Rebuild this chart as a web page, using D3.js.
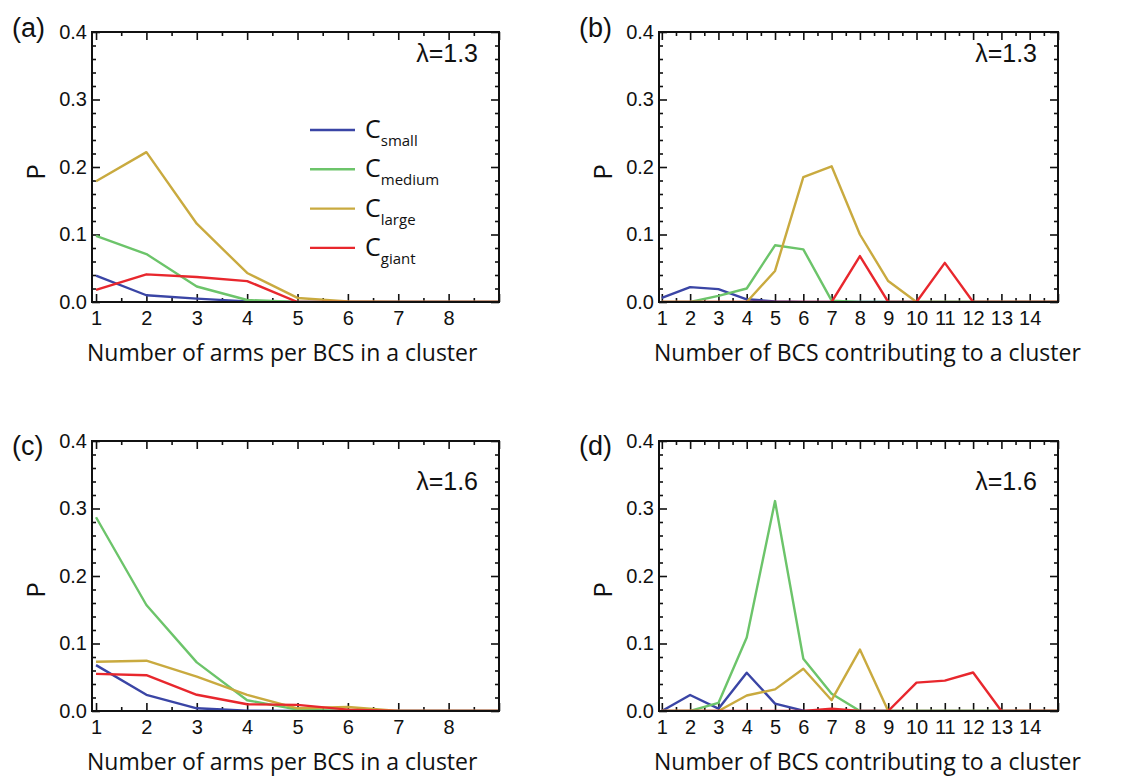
<!DOCTYPE html>
<html>
<head>
<meta charset="utf-8">
<script src="https://cdn.jsdelivr.net/npm/d3@7"></script>
<style>
  body { margin: 0; background: #fff; }
  svg { display: block; }
  .tick text { font-family: "Liberation Sans", Arial, sans-serif; font-size: 20px; fill: #111; }
  .tick line { stroke: #111; stroke-width: 1.6; }
  .lbl { font-family: "Open Sans", sans-serif; fill: #111; }
</style>
</head>
<body>
<div id="chart"></div>
<script>
// x categories
var armsX = [1, 2, 3, 4, 5, 6, 7, 8, 9];
var bcsX = [1, 2, 3, 4, 5, 6, 7, 8, 9, 10, 11, 12, 13, 14, 15];
var armsTickLabels = [1, 2, 3, 4, 5, 6, 7, 8];
var bcsTickLabels = [1, 2, 3, 4, 5, 6, 7, 8, 9, 10, 11, 12, 13, 14];
var yTicks = [0, 0.1, 0.2, 0.3, 0.4];

var seriesNames = ["small", "medium", "large", "giant"];
var seriesColors = ["#3a45a5", "#6cc46a", "#c9aa3f", "#e8272d"];

// (a) lambda=1.3, arms per BCS
var aSmall  = [0.039, 0.010, 0.005, 0.001, 0, 0, 0, 0, 0];
var aMedium = [0.098, 0.071, 0.023, 0.003, 0, 0, 0, 0, 0];
var aLarge  = [0.179, 0.222, 0.116, 0.043, 0.006, 0.001, 0, 0, 0];
var aGiant  = [0.018, 0.041, 0.037, 0.031, 0, 0, 0, 0, 0];

// (b) lambda=1.3, BCS per cluster
var bSmall  = [0.006, 0.022, 0.019, 0.004, 0.001, 0, 0, 0, 0, 0, 0, 0, 0, 0, 0];
var bMedium = [0, 0, 0.009, 0.020, 0.084, 0.078, 0.002, 0, 0, 0, 0, 0, 0, 0, 0];
var bLarge  = [0, 0, 0, 0, 0.046, 0.185, 0.201, 0.100, 0.031, 0, 0, 0, 0, 0, 0];
var bGiant  = [0, 0, 0, 0, 0, 0, 0, 0.068, 0, 0, 0.058, 0, 0, 0, 0];

// (c) lambda=1.6, arms per BCS
var cSmall  = [0.068, 0.024, 0.004, 0.0005, 0, 0, 0, 0, 0];
var cMedium = [0.287, 0.157, 0.072, 0.016, 0.002, 0, 0, 0, 0];
var cLarge  = [0.073, 0.0745, 0.051, 0.024, 0.004, 0.006, 0, 0, 0];
var cGiant  = [0.055, 0.053, 0.024, 0.010, 0.009, 0.002, 0, 0, 0];

// (d) lambda=1.6, BCS per cluster
var dSmall  = [0, 0.0237, 0.0035, 0.0567, 0.011, 0.0005, 0, 0, 0, 0, 0, 0, 0, 0, 0];
var dMedium = [0, 0, 0.012, 0.109, 0.311, 0.0775, 0.0257, 0, 0, 0, 0, 0, 0, 0, 0];
var dLarge  = [0, 0, 0, 0.023, 0.032, 0.0626, 0.016, 0.091, 0, 0, 0, 0, 0, 0, 0];
var dGiant  = [0, 0, 0, 0, 0, 0, 0.0035, 0, 0, 0.042, 0.045, 0.057, 0, 0, 0];

var armsTitle = "Number of arms per BCS in a cluster";
var bcsTitle = "Number of BCS contributing to a cluster";

var panels = [
  {tag: "(a)", lam: "\u03bb=1.3", xs: armsX, xdom: [0.92, 9.0], xlab: armsTickLabels, title: armsTitle,
   series: [aSmall, aMedium, aLarge, aGiant], left: 92, top: 32, legend: true,
   tagY: 37, pY: 172, lamY: 62},
  {tag: "(b)", lam: "\u03bb=1.3", xs: bcsX, xdom: [0.9, 15.0], xlab: bcsTickLabels, title: bcsTitle,
   series: [bSmall, bMedium, bLarge, bGiant], left: 659, top: 32, legend: false,
   tagY: 37, pY: 172, lamY: 62},
  {tag: "(c)", lam: "\u03bb=1.6", xs: armsX, xdom: [0.92, 9.0], xlab: armsTickLabels, title: armsTitle,
   series: [cSmall, cMedium, cLarge, cGiant], left: 92, top: 441, legend: false,
   tagY: 455, pY: 590, lamY: 490},
  {tag: "(d)", lam: "\u03bb=1.6", xs: bcsX, xdom: [0.9, 15.0], xlab: bcsTickLabels, title: bcsTitle,
   series: [dSmall, dMedium, dLarge, dGiant], left: 659, top: 441, legend: false,
   tagY: 455, pY: 590, lamY: 490}
];

var W = 1134, H = 776;
var pw = 407, ph = 270;

var svg = d3.select("#chart").append("svg")
    .attr("width", W)
    .attr("height", H);

panels.forEach(function(p) { drawPanel(p); });

function range(a, b, step) {
  var out = [];
  for (var v = a; v <= b + 1e-9; v += step) out.push(+v.toFixed(4));
  return out;
}

function drawPanel(p) {
  var w = p.left === 659 ? 399 : pw;
  var x = d3.scaleLinear().domain(p.xdom).range([0, w]);
  var y = d3.scaleLinear().domain([0, 0.4]).range([ph, 0]);

  var g = svg.append("g").attr("transform", "translate(" + p.left + "," + p.top + ")");

  var xMajor = range(1, Math.floor(p.xdom[1]), 1);
  var xMinor = range(1.5, p.xdom[1], 1);
  var yMinor = range(0.02, 0.4, 0.02).filter(function(v) { return Math.abs(v * 10 - Math.round(v * 10)) > 1e-6; });

  var noLab = function() { return ""; };
  var xFmt = function(d) { return p.xlab.indexOf(d) >= 0 ? d : ""; };

  function ax(fn, scale, vals, size, fmt, pad, tr) {
    var a = g.append("g").attr("transform", tr || null)
      .call(fn(scale).tickValues(vals).tickSize(size).tickSizeOuter(0).tickPadding(pad).tickFormat(fmt));
    a.select(".domain").remove();
    return a;
  }

  // bottom
  ax(d3.axisBottom, x, xMajor, -8, xFmt, 9, "translate(0," + ph + ")");
  ax(d3.axisBottom, x, xMinor, -4, noLab, 9, "translate(0," + ph + ")");
  // top
  ax(d3.axisTop, x, xMajor, -8, noLab, 0);
  ax(d3.axisTop, x, xMinor, -4, noLab, 0);
  // left
  ax(d3.axisLeft, y, yTicks, -8, d3.format(".1f"), 5);
  ax(d3.axisLeft, y, yMinor, -4, noLab, 5);
  // right
  ax(d3.axisRight, y, yTicks, -8, noLab, 0, "translate(" + w + ",0)");
  ax(d3.axisRight, y, yMinor, -4, noLab, 0, "translate(" + w + ",0)");

  var line = d3.line()
    .x(function(d, i) { return x(p.xs[i]); })
    .y(function(d) { return y(d); });

  g.append("defs").append("clipPath").attr("id", "clip" + p.tag.charAt(1))
    .append("rect").attr("width", w).attr("height", ph);

  var lines = g.append("g").attr("clip-path", "url(#clip" + p.tag.charAt(1) + ")");
  p.series.forEach(function(s, i) {
    lines.append("path")
      .datum(s)
      .attr("d", line)
      .attr("fill", "none")
      .attr("stroke", seriesColors[i])
      .attr("stroke-width", 2.4)
      .attr("stroke-linejoin", "round");
  });

  g.append("rect")
    .attr("width", w).attr("height", ph)
    .attr("fill", "none").attr("stroke", "#111").attr("stroke-width", 2);

  // texts
  svg.append("text").attr("class", "lbl")
    .attr("x", 12).attr("y", p.tagY)
    .attr("transform", "translate(" + (p.left - 92) + ",0)")
    .style("font-family", "Liberation Sans, Arial, sans-serif")
    .style("font-size", "27px")
    .text(p.tag);

  svg.append("text").attr("class", "lbl")
    .attr("transform", "translate(" + (p.left - 47) + "," + p.pY + ") rotate(-90)")
    .attr("text-anchor", "middle")
    .style("font-size", "26px")
    .text("P");

  svg.append("text").attr("class", "lbl")
    .attr("x", p.left + w - 21).attr("y", p.lamY)
    .attr("text-anchor", "end")
    .style("font-family", "Liberation Sans, Arial, sans-serif")
    .style("font-size", "25px")
    .text(p.lam);

  svg.append("text").attr("class", "lbl")
    .attr("x", p.left - 5).attr("y", p.top + ph + 59)
    .style("font-size", "23px")
    .text(p.title);

  if (p.legend) {
    var lg = svg.append("g").attr("transform", "translate(310,130)");
    seriesNames.forEach(function(n, i) {
      var row = lg.append("g").attr("transform", "translate(0," + (i * 39.3) + ")");
      row.append("line").attr("x1", 0).attr("x2", 45)
        .attr("stroke", seriesColors[i]).attr("stroke-width", 2.4);
      var t = row.append("text").attr("class", "lbl").attr("x", 55).attr("y", 8)
        .style("font-size", "25px");
      t.append("tspan").text("C");
      t.append("tspan").attr("dy", 8).style("font-size", "15px").text(n);
    });
  }
}
</script>
</body>
</html>
